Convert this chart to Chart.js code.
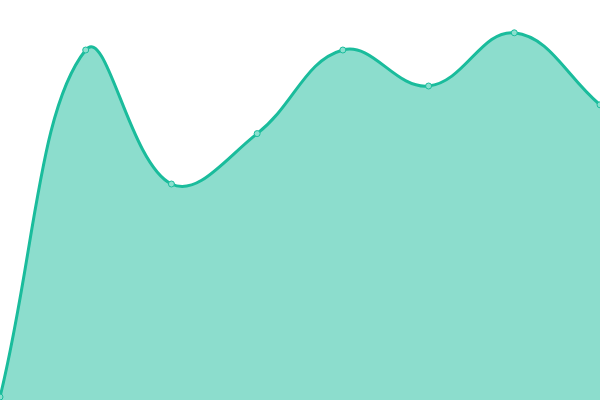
<!DOCTYPE html>
<html>
<head>
<meta charset="utf-8">
<script src="https://cdn.jsdelivr.net/npm/chart.js@4"></script>
<style>
  html, body { margin: 0; padding: 0; background: #fff; }
  #wrap { width: 600px; height: 400px; }
</style>
</head>
<body>
<div id="wrap"><canvas id="chart"></canvas></div>
<script>
// values (scale 0..100)
const labels = ['1', '2', '3', '4', '5', '6', '7', '8'];
const values = [0.75, 87.5, 54, 66.6, 87.5, 78.5, 91.8, 73.8];

const ctx = document.getElementById('chart');
new Chart(ctx, {
  type: 'line',
  data: {
    labels: labels,
    datasets: [{
      data: values,
      fill: true,
      tension: 0.4,
      borderColor: '#1abc9c',
      backgroundColor: 'rgba(26,188,156,0.5)',
      borderWidth: 3,
      pointRadius: 3,
      pointBorderWidth: 1,
      pointBorderColor: '#1abc9c',
      pointBackgroundColor: '#8be0cf'
    }]
  },
  options: {
    responsive: true,
    maintainAspectRatio: false,
    animation: false,
    layout: { padding: 0, autoPadding: false },
    plugins: { legend: { display: false }, tooltip: { enabled: false } },
    scales: {
      x: { display: false, offset: false },
      y: { display: false, min: 0, max: 100 }
    }
  }
});
</script>
</body>
</html>
